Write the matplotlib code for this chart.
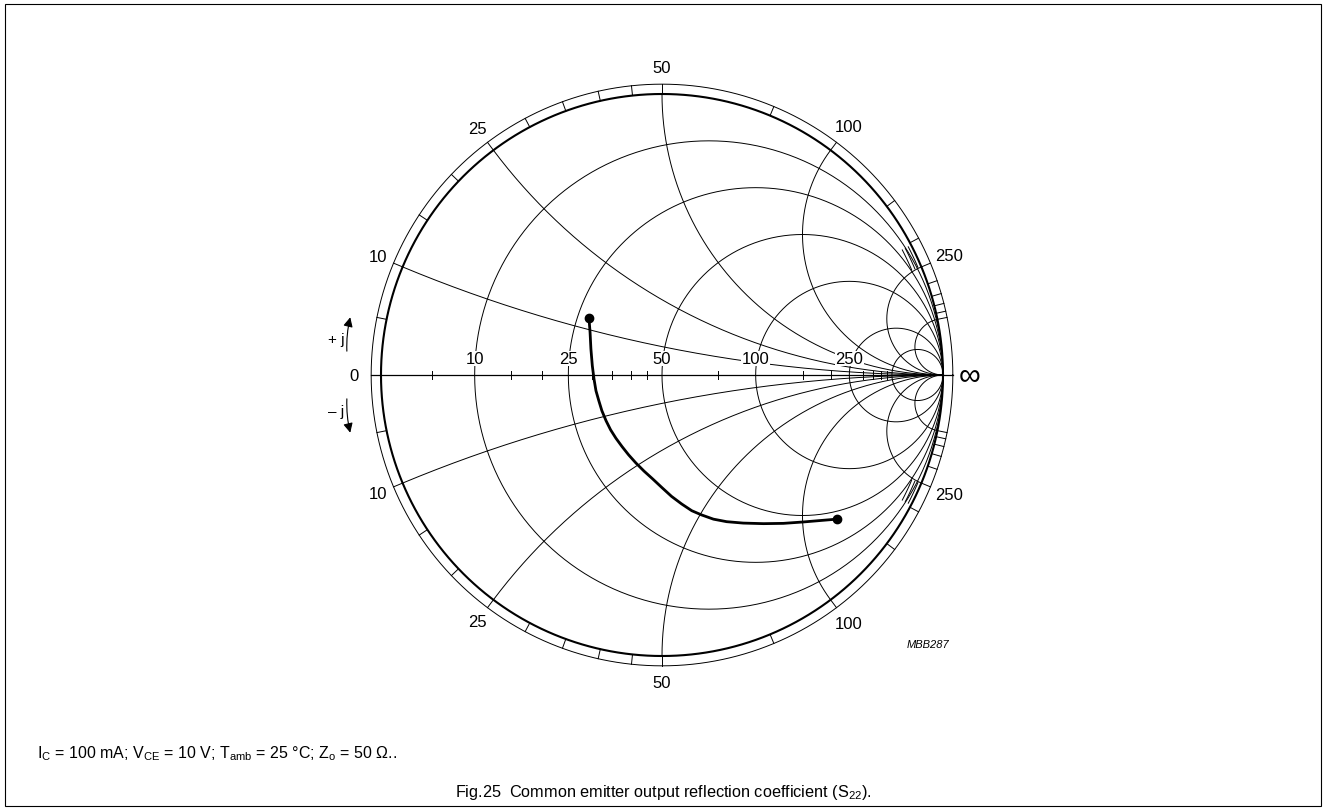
import numpy as np
import matplotlib
matplotlib.use('Agg')
from matplotlib import pyplot as plt
from matplotlib.patches import Rectangle

plt.rcParams['font.family'] = ['Liberation Sans', 'DejaVu Sans']
plt.rcParams['mathtext.fontset'] = 'custom'
plt.rcParams['mathtext.rm'] = 'Liberation Sans'
plt.rcParams['mathtext.it'] = 'Liberation Sans:italic'

# reference impedance (ohm)
z0 = 50.

# grid values (ohm)
r_circles = [10, 25, 50, 100, 250, 500]
x_arcs = [10, 25, 50, 100, 250, 500]
labels_ohm = [10, 25, 50, 100, 250]
axis_ticks = [5, 15, 20, 30, 35, 40, 45, 75, 150, 200, 300, 350, 400, 450]
ring_ticks = [5, 10, 15, 20, 25, 30, 35, 40, 45, 50, 75, 100, 150, 200, 250,
              300, 350, 400, 450, 500]

# measured S22 (reflection coefficient, real / imag part)
s22_re = [-0.260, -0.256, -0.253, -0.248, -0.242, -0.235, -0.225, -0.214,
          -0.199, -0.183, -0.164, -0.142, -0.119, -0.093, -0.064, -0.033,
          -0.001, 0.034, 0.070, 0.106, 0.141, 0.183, 0.230, 0.289, 0.361,
          0.432, 0.503, 0.574, 0.622]
s22_im = [0.203, 0.152, 0.093, 0.033, -0.014, -0.056, -0.091, -0.127,
          -0.163, -0.195, -0.225, -0.255, -0.284, -0.313, -0.342, -0.370,
          -0.400, -0.432, -0.459, -0.483, -0.498, -0.513, -0.522, -0.527,
          -0.529, -0.528, -0.523, -0.517, -0.513]

# pixel geometry of the chart
W, H = 1326, 812
cx, cy, R = 662., 376., 281.
ring = 1.035
lw = 0.7

fig = plt.figure(figsize=(W/100., H/100.), dpi=100)
ax = fig.add_axes([0, 0, 1, 1])
ax.set_xlim(-cx/R, (W-cx)/R)
ax.set_ylim((cy-H)/R, cy/R)
ax.axis('off')

t = np.linspace(0, 2*np.pi, 721)

# unit circle + outer ring
ax.plot(np.cos(t), np.sin(t), color='black', lw=1.5)
ax.plot(ring*np.cos(t), ring*np.sin(t), color='black', lw=lw)

# constant resistance circles
for rv in r_circles:
    r = rv/z0
    ax.plot(r/(1+r) + np.cos(t)/(1+r), np.sin(t)/(1+r), color='black', lw=lw)

# constant reactance arcs (inside unit circle)
for xv in x_arcs:
    x = xv/z0
    th = 2*np.arctan(1/x)
    phi0 = np.arctan2(np.sin(th) - 1/x, np.cos(th) - 1) % (2*np.pi)
    phi = np.linspace(phi0, 1.5*np.pi, 400)
    ax.plot(1 + np.cos(phi)/x, 1/x + np.sin(phi)/x, color='black', lw=lw)
    ax.plot(1 + np.cos(phi)/x, -1/x - np.sin(phi)/x, color='black', lw=lw)

# real axis
ax.plot([-ring, ring], [0, 0], color='black', lw=0.9)
for rv in axis_ticks:
    g = (rv/z0 - 1)/(rv/z0 + 1)
    ax.plot([g, g], [-0.013, 0.013], color='black', lw=lw)

# ticks in the outer ring
for xv in ring_ticks:
    th = 2*np.arctan(z0/xv)
    for s in [1, -1]:
        ax.plot([np.cos(th), ring*np.cos(th)], [s*np.sin(th), s*ring*np.sin(th)],
                color='black', lw=lw)

# short marks near the rim
for rr in [0.964, 0.976, 0.988]:
    a = np.linspace(np.radians(22.8), np.radians(27.5), 20)
    ax.plot(rr*np.cos(a), rr*np.sin(a), color='black', lw=lw)
    ax.plot(rr*np.cos(a), -rr*np.sin(a), color='black', lw=lw)

s = 12
# labels on real axis
for rv in labels_ohm:
    g = (rv/z0 - 1)/(rv/z0 + 1)
    ax.text(g, 0.043, str(rv), ha='center', va='baseline', size=s,
            bbox=dict(fc='white', ec='none', pad=0.3), zorder=5)

# labels round the rim
for rv in labels_ohm:
    th = 2*np.arctan(z0/rv)
    rl = 1.095 + 0.012*(len(str(rv)) - 2)
    for sg in [1, -1]:
        ax.text(rl*np.cos(th), sg*rl*np.sin(th), str(rv), ha='center',
                va='center', size=s)

ax.text(-1.096, 0, '0', ha='center', va='center', size=s)
ax.text(1.095, 0, '\u221e', ha='center', va='center', size=22)
ax.text(-1.160, 0.128, '+ j', ha='center', va='center', size=s-1)
ax.text(-1.160, -0.128, '\u2013 j', ha='center', va='center', size=s-1)
ax.annotate('', xy=(-1.107, 0.215), xytext=(-1.121, 0.075),
            arrowprops=dict(arrowstyle='-|>', color='black', lw=0.8,
                            mutation_scale=14, connectionstyle='arc3,rad=-0.08'))
ax.annotate('', xy=(-1.107, -0.215), xytext=(-1.121, -0.075),
            arrowprops=dict(arrowstyle='-|>', color='black', lw=0.8,
                            mutation_scale=14, connectionstyle='arc3,rad=0.08'))

# measured curve
ax.plot(s22_re, s22_im, color='black', lw=2.0, solid_capstyle='round',
        solid_joinstyle='round', zorder=6)
ax.plot([s22_re[0], s22_re[-1]], [s22_im[0], s22_im[-1]], 'o', color='black',
        ms=6, zorder=7)

ax.text((928-cx)/R, (cy-645)/R, 'MBB287', ha='center', va='center', size=8,
        style='italic')

fig.text(37/W, 1-754/H,
         'I$_\\mathrm{C}$ = 100 mA; V$_\\mathrm{CE}$ = 10 V; T$_\\mathrm{amb}$ = 25 \u00b0C; '
         'Z$_\\mathrm{o}$ = 50 \u03a9..', ha='left', va='center', size=11.5)
fig.text(663/W, 1-793/H,
         'Fig.25  Common emitter output reflection coefficient (S$_\\mathrm{22}$).',
         ha='center', va='center', size=11.7)

fig.patches.append(Rectangle((5/W, 5/H), 1-10/W, 1-10/H, transform=fig.transFigure,
                             fill=False, ec='black', lw=0.8))

plt.savefig('out.png', dpi=100)
